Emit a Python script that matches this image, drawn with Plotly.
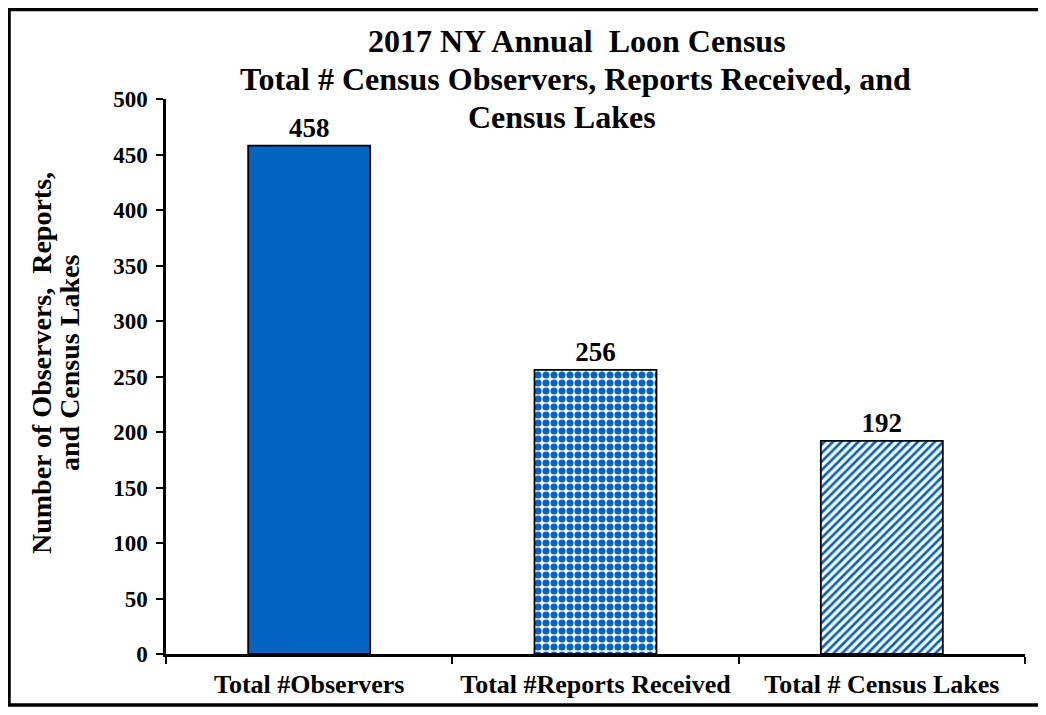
import plotly.graph_objects as go

categories = ["Total #Observers", "Total #Reports Received", "Total # Census Lakes"]
values = [458, 256, 192]
labels = ["458", "256", "192"]
y_ticks = [0, 50, 100, 150, 200, 250, 300, 350, 400, 450, 500]
title_lines = ["2017 NY Annual  Loon Census",
               "Total # Census Observers, Reports Received, and",
               "Census Lakes"]
ytitle_lines = ["Number of Observers,  Reports,", "and Census Lakes"]

BLUE = "#0563C1"
FONT = "Liberation Serif"

W, H = 1030, 699
L, R, T, B = 158, 13, 91, 53
PW, PH = W - L - R, H - T - B


def px(fx):
    return (fx - L) / PW


def py(fy):
    return (H - B - fy) / PH


fig = go.Figure()
fig.add_trace(go.Bar(
    x=categories,
    y=values,
    text=labels,
    textposition="outside",
    textfont=dict(family=FONT, size=27, color="black", weight="bold"),
    width=0.426,
    marker=dict(
        color=BLUE,
        line=dict(color="black", width=1.8),
        pattern=dict(
            shape=["", ".", "/"],
            fgcolor=BLUE,
            bgcolor="white",
            size=[8, 8, 6],
            solidity=[0.5, 0.62, 0.45],
            fillmode="replace",
        ),
    ),
    cliponaxis=False,
    showlegend=False,
))

fig.update_layout(
    width=W, height=H,
    margin=dict(l=L, r=R, t=T, b=B, autoexpand=False),
    paper_bgcolor="white",
    plot_bgcolor="white",
    font=dict(family=FONT, color="black"),
)

fig.update_xaxes(
    showline=True, linecolor="black", linewidth=2.5,
    ticks="outside", tickson="boundaries", ticklen=7, tickwidth=2, tickcolor="black",
    tickfont=dict(family=FONT, size=26, color="black", weight="bold"),
    ticklabelstandoff=5, automargin=False,
    showgrid=False,
)
fig.update_yaxes(
    range=[0, 500], tickvals=y_ticks,
    showline=True, linecolor="black", linewidth=2.5,
    ticks="outside", ticklen=7, tickwidth=2, tickcolor="black",
    tickfont=dict(family=FONT, size=23, color="black", weight="bold"),
    ticklabelstandoff=4, automargin=False,
    showgrid=False, zeroline=False,
)

# Title lines
title_pos = [(569, 33), (567, 71), (554, 109)]
for line, (tx, ty) in zip(title_lines, title_pos):
    fig.add_annotation(
        text=line, xref="paper", yref="paper",
        x=px(tx), y=py(ty), xanchor="center", yanchor="middle",
        showarrow=False,
        font=dict(family=FONT, size=32, color="black", weight="bold"),
    )

# Y axis title (two lines)
for line, tx in zip(ytitle_lines, [33, 61]):
    fig.add_annotation(
        text=line, xref="paper", yref="paper",
        x=px(tx), y=py(355), xanchor="center", yanchor="middle",
        textangle=-90, showarrow=False,
        font=dict(family=FONT, size=28, color="black", weight="bold"),
    )

# Outer frame
fig.add_shape(
    type="rect", xref="paper", yref="paper",
    x0=px(1), x1=px(W + 20),
    y0=py(H - 2), y1=py(1.5),
    line=dict(color="black", width=3.5), fillcolor="rgba(0,0,0,0)",
    layer="below",
)

fig.write_html("out.html")
